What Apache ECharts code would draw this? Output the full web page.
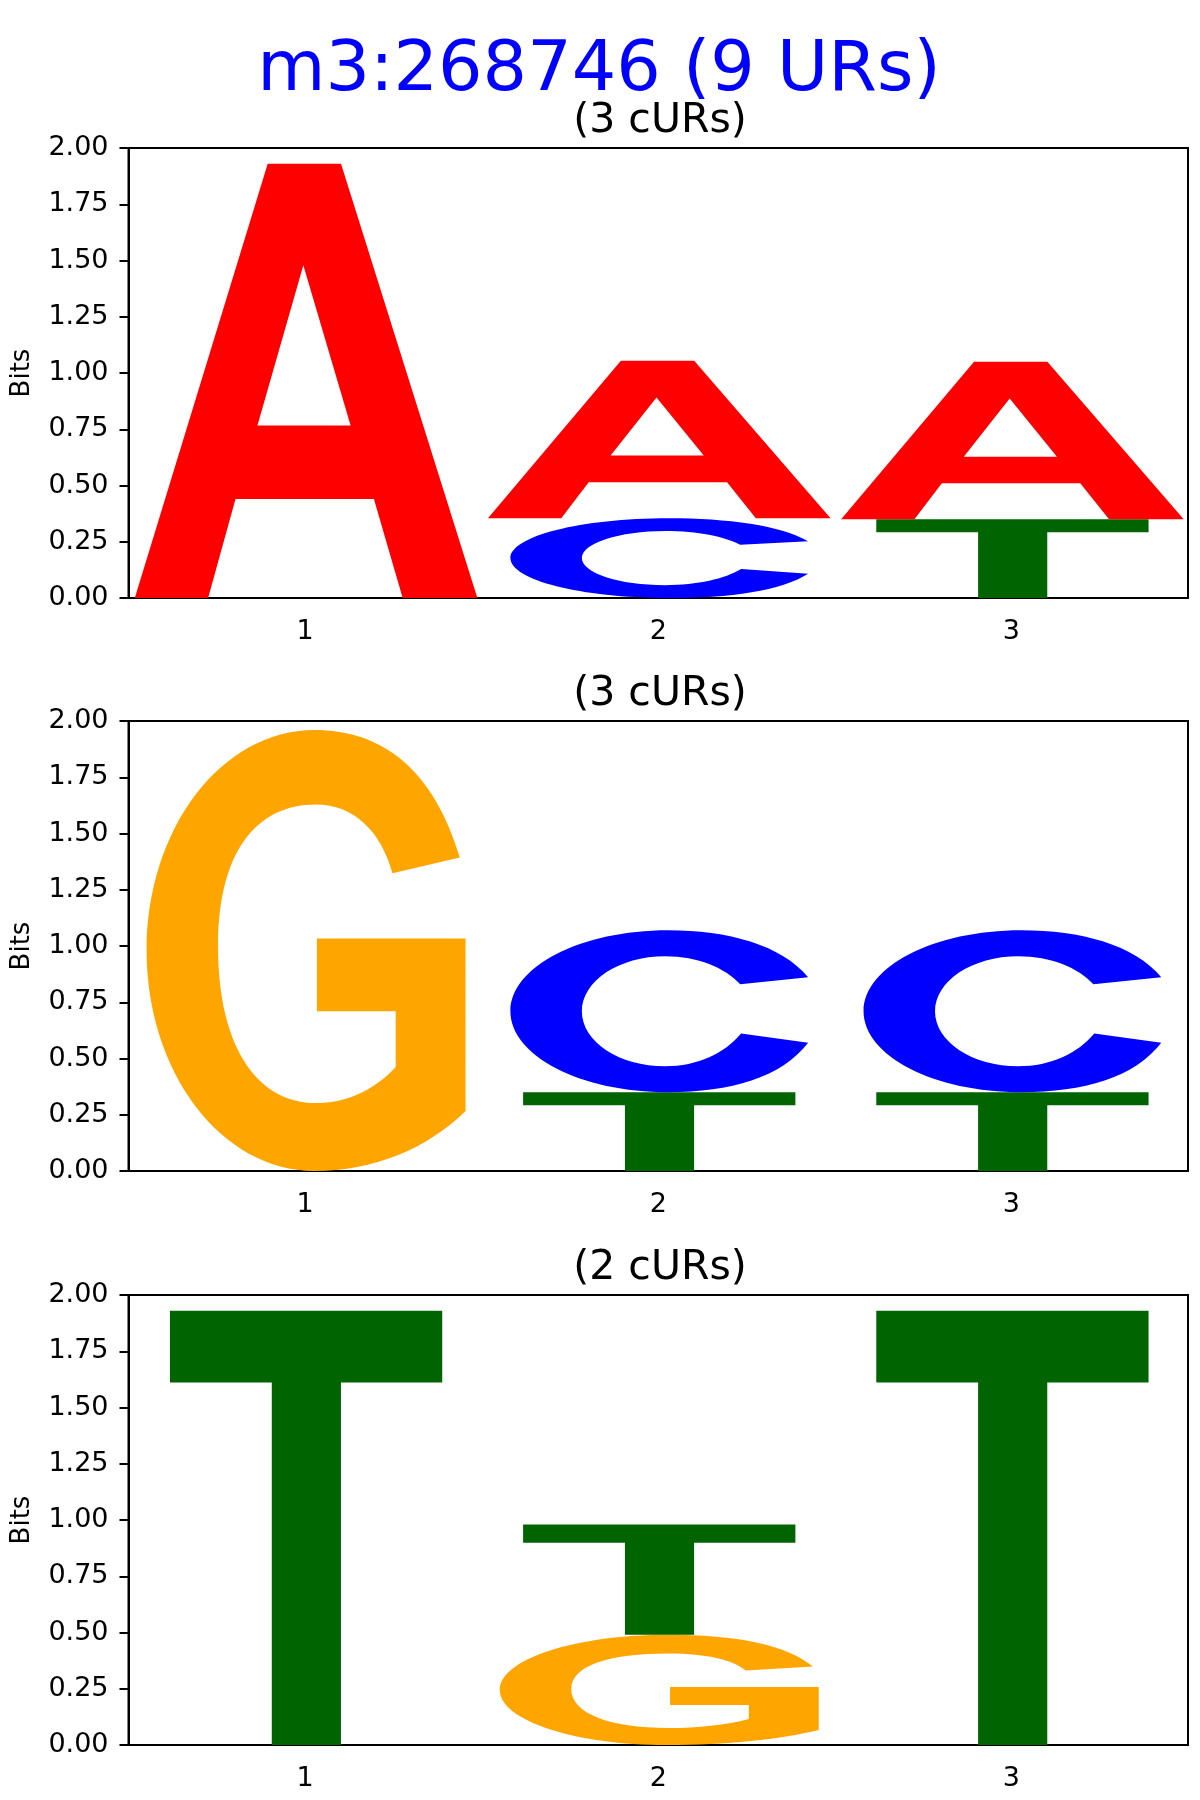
<!DOCTYPE html>
<html>
<head>
<meta charset="utf-8">
<script src="https://cdn.jsdelivr.net/npm/echarts@6/dist/echarts.min.js"></script>
<style>
  html, body { margin: 0; padding: 0; background: #fff; }
  #main { width: 1200px; height: 1800px; }
</style>
</head>
<body>
<div id="main"></div>
<script>
// 数据
const positions = ['1', '2', '3'];
const yTicks = [0, 0.25, 0.5, 0.75, 1, 1.25, 1.5, 1.75, 2];
const mainTitle = 'm3:268746 (9 URs)';
const panelTitles = ['(3 cURs)', '(3 cURs)', '(2 cURs)'];

// each position: letters stacked bottom -> top, with their heights in bits
const panel1Letters = [['A'], ['C', 'A'], ['T', 'A']];
const panel1Bits = [[1.93], [0.355, 0.70], [0.35, 0.70]];
const panel2Letters = [['G'], ['T', 'C'], ['T', 'C']];
const panel2Bits = [[1.96], [0.35, 0.72], [0.35, 0.72]];
const panel3Letters = [['T'], ['G', 'T'], ['T']];
const panel3Bits = [[1.93], [0.49, 0.49], [1.93]];

const letterColors = { A: '#ff0000', C: '#0000ff', G: '#ffa500', T: '#006400' };
// glyph width as share of one position
const letterWidth = { A: 0.97, C: 0.843, G: 0.903, T: 0.771 };
// glyph outlines in a 100x100 box, stretched to fit each stack cell
const glyphs = {
  A: 'M0,100 L38.8,0 L60.2,0 L100,100 L78.2,100 L69.8,77.2 L29.4,77.2 L21.4,100 Z ' +
     'M49.2,23.4 L35.8,60.3 L63,60.3 Z',
  C: 'M100,29 C91,9 73,0 53,0 C23.7,0 0,22.4 0,50 C0,77.6 23.7,100 53,100 ' +
     'C74,100 91,91 100,69.5 L77.5,63.8 C72,76 63,84 52,84 C36.5,84 24,68.8 24,50 ' +
     'C24,31.2 36.5,16 52,16 C63,16 72,23 77.2,33.3 Z',
  G: 'M98.2,28.9 C90,9 74,0 52.6,0 C23.5,0 0,22.4 0,50 C0,77.6 23.5,100 52.6,100 ' +
     'C71,100 88,95 100,86.4 L100,47.3 L53.4,47.3 L53.4,63.8 L78.1,63.8 L78.1,76.4 ' +
     'C71,82 62,84.6 53.1,84.6 C34,84.6 22.4,71 22.4,49.2 C22.4,28 34,16.9 53.1,16.9 ' +
     'C65,16.9 73.5,23 77.1,32.5 Z',
  T: 'M0,0 L100,0 L100,16.5 L62.8,16.5 L62.8,100 L37.4,100 L37.4,16.5 L0,16.5 Z'
};
const letterNames = ['A', 'C', 'G', 'T'];

const panels = [
  { letters: panel1Letters, bits: panel1Bits },
  { letters: panel2Letters, bits: panel2Bits },
  { letters: panel3Letters, bits: panel3Bits }
];

const gridTops = [148, 721, 1295];
const font = 'DejaVu Sans';

// 把每一列的字母堆叠起来
const buildStack = (p) => {
  const rows = [];
  p.letters.forEach((col, i) => {
    let base = 0;
    col.forEach((l, j) => {
      const h = p.bits[i][j];
      rows.push([i, base, base + h, letterNames.indexOf(l)]);
      base += h;
    });
  });
  return rows;
};

const renderLetter = (params, api) => {
  const pos = api.value(0);
  const l = letterNames[api.value(3)];
  const bottom = api.coord([pos, api.value(1)]);
  const top = api.coord([pos, api.value(2)]);
  const band = api.size([1, 0])[0];
  const w = band * letterWidth[l];
  return {
    type: 'path',
    shape: {
      pathData: glyphs[l],
      layout: 'cover',
      x: top[0] - w / 2 + 1,
      y: top[1],
      width: w,
      height: bottom[1] - top[1]
    },
    style: { fill: letterColors[l] }
  };
};

const myChart = echarts.init(document.getElementById('main'), null, { renderer: 'canvas' });

const option = {
  animation: false,
  backgroundColor: '#fff',
  title: [
    {
      text: mainTitle,
      left: 594,
      top: 32,
      textAlign: 'center',
      textStyle: { color: '#0000ff', fontSize: 70, fontWeight: 'normal', fontFamily: font }
    }
  ].concat(panelTitles.map((t, i) => ({
    text: t,
    left: 655,
    top: gridTops[i] - 52,
    textAlign: 'center',
    textStyle: { color: '#000', fontSize: 41, fontWeight: 'normal', fontFamily: font }
  }))),
  grid: gridTops.map((t) => ({
    left: 128.5,
    width: 1059.5,
    top: t,
    height: 450,
    show: true,
    borderColor: '#000',
    borderWidth: 2,
    backgroundColor: 'transparent'
  })),
  xAxis: gridTops.map((t, i) => ({
    type: 'category',
    gridIndex: i,
    data: positions,
    boundaryGap: true,
    axisLine: { lineStyle: { color: '#000', width: 2 } },
    axisTick: { alignWithLabel: true, length: 9, lineStyle: { color: '#000', width: 2 } },
    axisLabel: { color: '#000', fontSize: 27, fontFamily: font, margin: 20 },
    splitLine: { show: false }
  })),
  yAxis: gridTops.map((t, i) => ({
    type: 'value',
    gridIndex: i,
    min: 0,
    max: 2,
    interval: 0.25,
    name: 'Bits',
    nameLocation: 'middle',
    nameGap: 93,
    nameTextStyle: { color: '#000', fontSize: 26, fontFamily: font },
    axisLine: { show: true, lineStyle: { color: '#000', width: 2 } },
    axisTick: { show: true, length: 9, lineStyle: { color: '#000', width: 2 } },
    axisLabel: {
      color: '#000',
      fontSize: 27,
      fontFamily: font,
      margin: 20,
      formatter: (v) => v.toFixed(2)
    },
    splitLine: { show: false }
  })),
  series: panels.map((p, i) => ({
    type: 'custom',
    xAxisIndex: i,
    yAxisIndex: i,
    renderItem: renderLetter,
    clip: true,
    data: buildStack(p)
  }))
};

myChart.setOption(option);
</script>
</body>
</html>
